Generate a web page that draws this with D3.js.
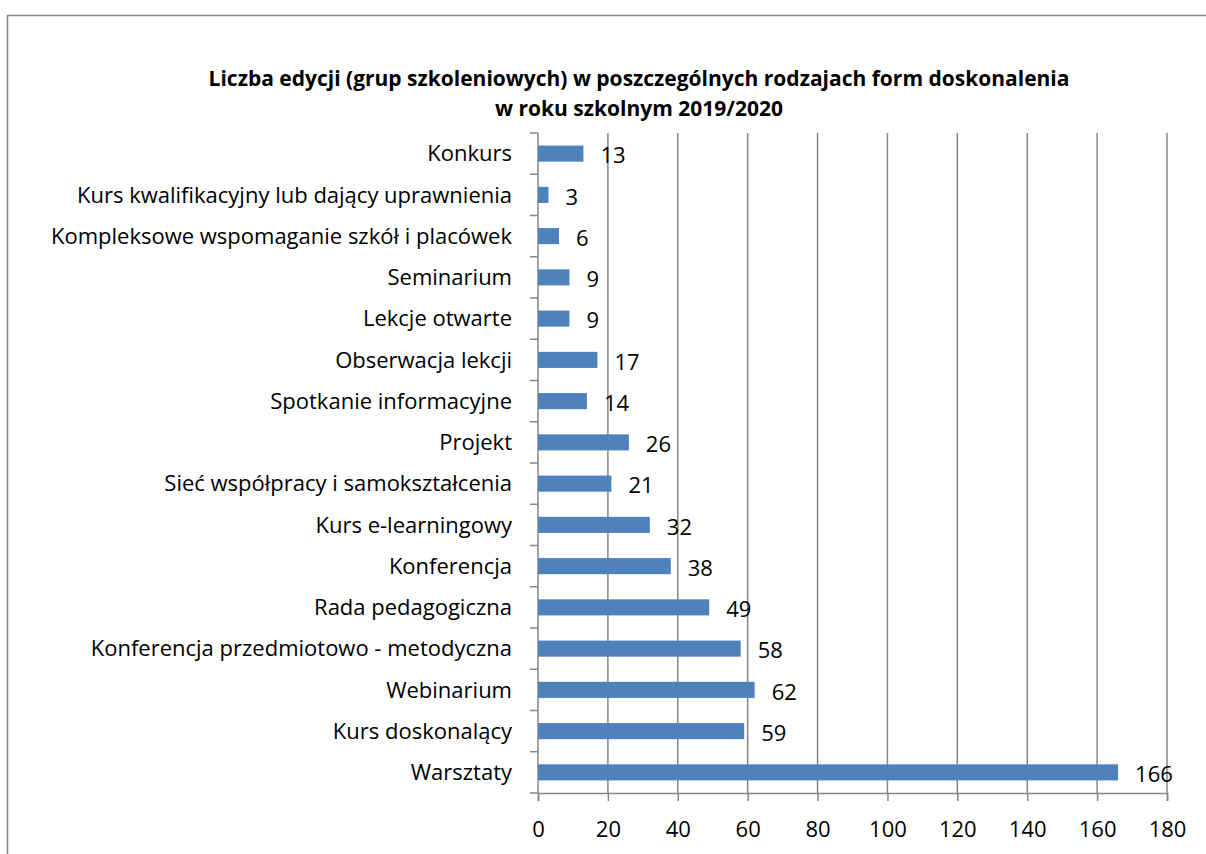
<!DOCTYPE html>
<html>
<head>
<meta charset="utf-8">
<script src="https://cdn.jsdelivr.net/npm/d3@7"></script>
<style>
  body { margin: 0; background: #fff; }
  svg text { font-family: "Open Sans", sans-serif; fill: #000; }
</style>
</head>
<body>
<svg id="chart" width="1206" height="854"></svg>
<script>
"use strict";

const categories = [
  "Konkurs",
  "Kurs kwalifikacyjny lub dający uprawnienia",
  "Kompleksowe wspomaganie szkół i placówek",
  "Seminarium",
  "Lekcje otwarte",
  "Obserwacja lekcji",
  "Spotkanie informacyjne",
  "Projekt",
  "Sieć współpracy i samokształcenia",
  "Kurs e-learningowy",
  "Konferencja",
  "Rada pedagogiczna",
  "Konferencja przedmiotowo - metodyczna",
  "Webinarium",
  "Kurs doskonalący",
  "Warsztaty"
];
const values = [13, 3, 6, 9, 9, 17, 14, 26, 21, 32, 38, 49, 58, 62, 59, 166];
const xTicks = [0, 20, 40, 60, 80, 100, 120, 140, 160, 180];
const titleLines = [
  "Liczba edycji (grup szkoleniowych) w poszczególnych rodzajach form doskonalenia",
  "w roku szkolnym 2019/2020"
];

let svg = d3.select('#chart');

// outer chart border
svg.append('rect')
  .attr('x', 7.5).attr('y', 15.5)
  .attr('width', 1220).attr('height', 860)
  .attr('fill', 'none')
  .attr('stroke', '#868686')
  .attr('stroke-width', 1.5);

let plotLeft = 538, plotRight = 1167, plotTop = 133, plotBottom = 793;

let x = d3.scaleLinear().domain([0, 180]).range([plotLeft, plotRight]);
let y = d3.scaleBand().domain(categories).range([plotTop, plotBottom]).paddingInner(0.61).paddingOuter(0.305);

// title
svg.append('g')
  .selectAll('text')
  .data(titleLines)
  .enter()
  .append('text')
  .attr('x', 639)
  .attr('y', (d, i) => 86 + i * 30)
  .attr('text-anchor', 'middle')
  .style('font-size', '21px')
  .style('font-weight', 'bold')
  .text(d => d);

// vertical gridlines
svg.append('g')
  .selectAll('line')
  .data(xTicks.slice(1))
  .enter()
  .append('line')
  .attr('x1', d => x(d)).attr('x2', d => x(d))
  .attr('y1', plotTop).attr('y2', plotBottom)
  .attr('stroke', '#868686')
  .attr('stroke-width', 1.5);

// x axis
let xAxis = svg.append('g')
  .attr('transform', `translate(0,${plotBottom})`)
  .call(d3.axisBottom(x).tickValues(xTicks).tickSize(8).tickPadding(20));
xAxis.select('.domain').attr('stroke', '#868686').attr('stroke-width', 1.5);
xAxis.selectAll('.tick line').attr('stroke', '#868686').attr('stroke-width', 1.5);
xAxis.selectAll('text')
  .style('font-size', '22px')
  .style('font-family', '"Open Sans", sans-serif')
  .attr('fill', '#000');

// y axis line and band ticks
svg.append('line')
  .attr('x1', plotLeft).attr('x2', plotLeft)
  .attr('y1', plotTop).attr('y2', plotBottom)
  .attr('stroke', '#868686').attr('stroke-width', 1.5);

let step = y.step();
svg.append('g')
  .selectAll('line')
  .data(d3.range(categories.length + 1))
  .enter()
  .append('line')
  .attr('x1', plotLeft - 8).attr('x2', plotLeft)
  .attr('y1', i => plotTop + i * step).attr('y2', i => plotTop + i * step)
  .attr('stroke', '#868686').attr('stroke-width', 1.5);

// category labels
svg.append('g')
  .selectAll('text')
  .data(categories)
  .enter()
  .append('text')
  .attr('x', 512)
  .attr('y', d => y(d) + y.bandwidth() / 2)
  .attr('dy', '0.35em')
  .attr('text-anchor', 'end')
  .style('font-size', '22px')
  .text(d => d);

// bars
svg.append('g')
  .selectAll('rect')
  .data(values)
  .enter()
  .append('rect')
  .attr('x', x(0))
  .attr('y', (d, i) => y(categories[i]))
  .attr('width', d => x(d) - x(0))
  .attr('height', y.bandwidth())
  .attr('fill', '#4F81BD');

// value labels
svg.append('g')
  .selectAll('text')
  .data(values)
  .enter()
  .append('text')
  .attr('x', d => x(d) + 17)
  .attr('y', (d, i) => y(categories[i]) + y.bandwidth() / 2 + 2)
  .attr('dy', '0.35em')
  .style('font-size', '22px')
  .text(d => d);
</script>
</body>
</html>
